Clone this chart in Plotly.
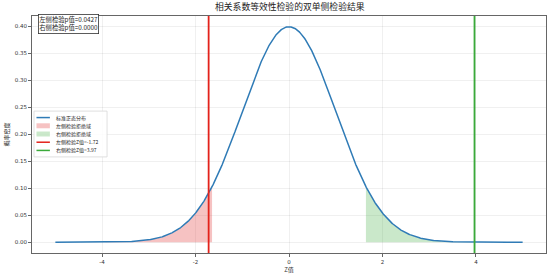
import numpy as np
import plotly.graph_objects as go

# ---- data ----
z_grid = np.linspace(-5, 5, 1000)
pdf = np.exp(-z_grid**2 / 2) / np.sqrt(2 * np.pi)
crit = 1.645            # one-sided 5% critical value
z_left = -1.72          # left-test Z statistic
z_right = 3.97          # right-test Z statistic
p_left = 0.0427
p_right = 0.0000

x_ticks = [-4, -2, 0, 2, 4]
y_ticks = [0.00, 0.05, 0.10, 0.15, 0.20, 0.25, 0.30, 0.35, 0.40]

x_range = [-5.5, 5.5]
y_range = [-0.01995, 0.41884]

CJK = "Noto Sans CJK SC"
BLUE = "#2f7bb6"
RED = "#e3221b"
GREEN = "#3aaa3a"
RED_FILL = "rgba(230,80,80,0.35)"
GREEN_FILL = "rgba(80,180,80,0.3)"

W, H = 553, 277
ML, MR, MT, MB = 30, 6, 16, 23
PW, PH = W - ML - MR, H - MT - MB


def px(x):
    return (x - ML) / PW


def py(y):
    return (H - MB - y) / PH


fig = go.Figure()

ml = z_grid <= -crit
fig.add_trace(go.Scatter(x=z_grid[ml], y=pdf[ml], mode="none", fill="tozeroy",
                         fillcolor=RED_FILL, name="左侧检验拒绝域", showlegend=False))
mr = z_grid >= crit
fig.add_trace(go.Scatter(x=z_grid[mr], y=pdf[mr], mode="none", fill="tozeroy",
                         fillcolor=GREEN_FILL, name="右侧检验拒绝域", showlegend=False))
fig.add_trace(go.Scatter(x=z_grid, y=pdf, mode="lines", name="标准正态分布",
                         line=dict(color=BLUE, width=1.5), showlegend=False))
fig.add_trace(go.Scatter(x=[z_left, z_left], y=y_range, mode="lines",
                         name=f"左侧检验Z值={z_left:.2f}", showlegend=False,
                         line=dict(color=RED, width=1.8)))
fig.add_trace(go.Scatter(x=[z_right, z_right], y=y_range, mode="lines",
                         name=f"右侧检验Z值={z_right:.2f}", showlegend=False,
                         line=dict(color=GREEN, width=1.8)))

# ---- compact legend (matplotlib-like) ----
legend_items = [
    ("标准正态分布", "line", BLUE),
    ("左侧检验拒绝域", "patch", RED_FILL),
    ("右侧检验拒绝域", "patch", GREEN_FILL),
    (f"左侧检验Z值={z_left:.2f}", "line", RED),
    (f"右侧检验Z值={z_right:.2f}", "line", GREEN),
]
shapes = [dict(type="rect", xref="paper", yref="paper",
               x0=px(32), x1=px(105.5), y0=py(157.5), y1=py(111.5),
               line=dict(color="#d8d8d8", width=0.8),
               fillcolor="rgba(255,255,255,0.85)", layer="above")]
row0, step = 118.0, 8.25
for i, (label, kind, color) in enumerate(legend_items):
    yc = row0 + i * step
    if kind == "line":
        shapes.append(dict(type="line", xref="paper", yref="paper",
                           x0=px(34.5), x1=px(48), y0=py(yc), y1=py(yc),
                           line=dict(color=color, width=1.5), layer="above"))
    else:
        shapes.append(dict(type="rect", xref="paper", yref="paper",
                           x0=px(34.5), x1=px(48), y0=py(yc + 2.5), y1=py(yc - 2.5),
                           line=dict(width=0), fillcolor=color, layer="above"))
    fig.add_annotation(xref="paper", yref="paper", x=px(52), y=py(yc),
                       xanchor="left", yanchor="middle", text=label, showarrow=False,
                       font=dict(family=CJK, size=5, color="#222"))

fig.add_annotation(xref="paper", yref="paper", x=px(36), y=py(14),
                   xanchor="left", yanchor="top", align="left",
                   text=f"左侧检验p值={p_left:.4f}<br>右侧检验p值={p_right:.4f}",
                   showarrow=False, font=dict(family=CJK, size=6.3, color="#222"),
                   bgcolor="white", bordercolor="#333", borderwidth=0.8, borderpad=0.5)

fig.update_layout(
    width=W, height=H,
    margin=dict(l=ML, r=MR, t=MT, b=MB),
    paper_bgcolor="white", plot_bgcolor="white",
    title=dict(text="相关系数等效性检验的双单侧检验结果", x=0.524, xanchor="center",
               y=0.985, yanchor="top", font=dict(family=CJK, size=8.8, color="#222")),
    font=dict(family="DejaVu Sans", size=5.5, color="#333"),
    shapes=shapes,
    showlegend=False,
)
fig.update_xaxes(range=x_range, tickvals=x_ticks, ticktext=[str(v) for v in x_ticks],
                 showgrid=True, gridcolor="rgba(0,0,0,0.06)", zeroline=False,
                 showline=True, linecolor="#666", linewidth=1, mirror=True,
                 ticks="outside", ticklen=3, tickcolor="#666",
                 title=dict(text="Z值", font=dict(family=CJK, size=6), standoff=2))
fig.update_yaxes(range=y_range, tickvals=y_ticks, ticktext=[f"{v:.2f}" for v in y_ticks],
                 showgrid=True, gridcolor="rgba(0,0,0,0.06)", zeroline=False,
                 showline=True, linecolor="#666", linewidth=1, mirror=True,
                 ticks="outside", ticklen=3, tickcolor="#666",
                 title=dict(text="概率密度", font=dict(family=CJK, size=6), standoff=4))

fig.write_html("out.html")
